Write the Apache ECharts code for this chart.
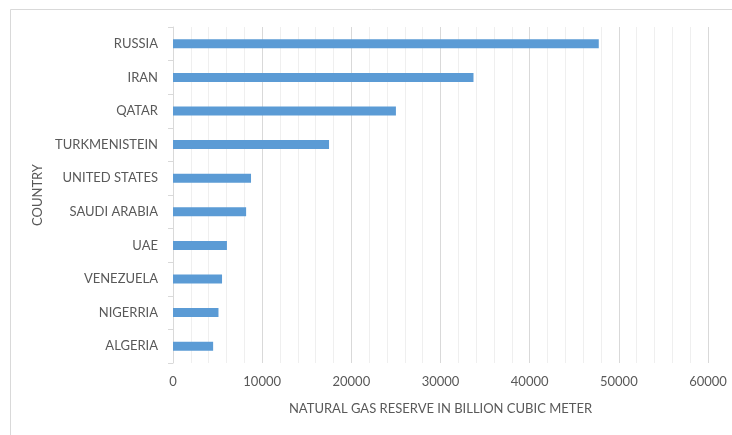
<!DOCTYPE html>
<html><head><meta charset="utf-8">
<script src="https://cdn.jsdelivr.net/npm/echarts@6/dist/echarts.min.js"></script>
<style>html,body{margin:0;padding:0;background:#fff}#c{width:732px;height:435px}</style>
</head><body><div id="c"></div>
<script>
const categories = ["RUSSIA","IRAN","QATAR","TURKMENISTEIN","UNITED STATES","SAUDI ARABIA","UAE","VENEZUELA","NIGERRIA","ALGERIA"];
const reserves = [47750, 33700, 25000, 17500, 8750, 8200, 6050, 5500, 5100, 4500];
const xTicks = [0, 10000, 20000, 30000, 40000, 50000, 60000];

const chart = echarts.init(document.getElementById('c'), null, {renderer:'canvas'});
const txt = '#595959';
const font = 'Lato';
chart.setOption({
  animation:false,
  backgroundColor:'#fff',
  graphic:[{type:'rect',shape:{x:10.5,y:9.5,width:800,height:500},style:{fill:'none',stroke:'#d9d9d9',lineWidth:1},silent:true}],
  grid:{left:173,right:24,top:27,bottom:72,containLabel:false},
  xAxis:{
    type:'value', min:xTicks[0], max:xTicks[xTicks.length-1], interval:10000,
    name:'NATURAL GAS RESERVE IN BILLION CUBIC METER', nameLocation:'middle', nameGap:39,
    nameTextStyle:{color:txt,fontFamily:font,fontSize:13},
    axisLine:{show:false}, axisTick:{show:false},
    axisLabel:{color:txt,fontFamily:font,fontSize:13,margin:12,formatter:function(v){return String(v);}},
    splitLine:{show:true,lineStyle:{color:'#d9d9d9',width:1}},
    minorTick:{show:false,splitNumber:5},
    minorSplitLine:{show:true,lineStyle:{color:'#efefef',width:1}}
  },
  yAxis:{
    type:'category', data:categories, inverse:true,
    name:'COUNTRY', nameLocation:'middle', nameGap:123, nameRotate:90,
    nameTextStyle:{color:txt,fontFamily:font,fontSize:13},
    axisLine:{show:true,lineStyle:{color:'#d9d9d9'}},
    axisTick:{show:true,length:5,lineStyle:{color:'#d9d9d9'}},
    axisLabel:{color:txt,fontFamily:font,fontSize:13,margin:15}
  },
  series:[{type:'bar',data:reserves,barWidth:9,itemStyle:{color:'#5b9bd5'}}]
});
</script></body></html>
